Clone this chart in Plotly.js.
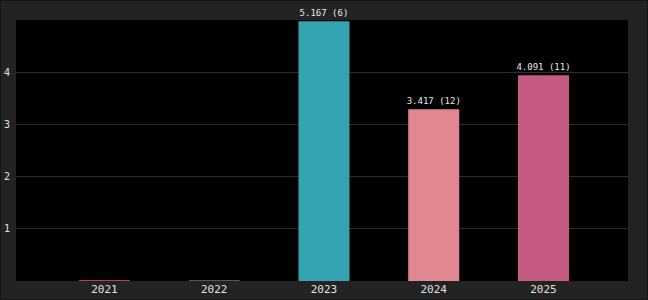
<!DOCTYPE html>
<html>
<head>
<meta charset="utf-8">
<script src="https://cdn.plot.ly/plotly-3.0.1.min.js"></script>
<style>
  html, body { margin: 0; padding: 0; background: #232323; }
  #chart { width: 646px; height: 298px; border: 1px solid #161616; }
</style>
</head>
<body>
<div id="chart"></div>
<script>
const years = ['2021', '2022', '2023', '2024', '2025'];
const values = [0.02, 0.02, 5.167, 3.417, 4.091];
const counts = [null, null, 6, 12, 11];
const colors = ['#c8385a', '#555560', '#34a3b2', '#e08791', '#c55a82'];
const gridTicks = [1, 2, 3, 4];

const labels = values.map((v, i) => counts[i] == null ? '' : v.toFixed(3) + ' (' + counts[i] + ')');

// invisible carrier trace so the gridded axis is drawn
const axisTrace = {
  type: 'scatter',
  mode: 'none',
  x: years,
  y: values,
  yaxis: 'y',
  hoverinfo: 'skip',
  showlegend: false
};

const barTrace = {
  type: 'bar',
  x: years,
  y: values,
  yaxis: 'y2',
  width: 0.465,
  marker: { color: colors, line: { width: 0 } },
  text: labels,
  textposition: 'outside',
  cliponaxis: false,
  constraintext: 'none',
  textfont: { family: 'DejaVu Sans Mono', size: 9, color: '#e8e8e8' },
  hoverinfo: 'x+y'
};

const layout = {
  width: 646,
  height: 298,
  margin: { l: 15, r: 19, t: 19, b: 18 },
  paper_bgcolor: '#232323',
  plot_bgcolor: '#000000',
  showlegend: false,
  barmode: 'overlay',
  font: { family: 'DejaVu Sans Mono', color: '#e0e0e0' },
  xaxis: {
    type: 'category',
    range: [-0.806, 4.77],
    showgrid: false,
    zeroline: false,
    showline: false,
    ticks: '',
    tickfont: { family: 'DejaVu Sans Mono', size: 11, color: '#e0e0e0' }
  },
  yaxis: {
    range: [0, 5],
    tickvals: gridTicks,
    ticktext: gridTicks.map(String),
    showgrid: true,
    gridcolor: '#2b2b2b',
    gridwidth: 1,
    zeroline: false,
    showline: false,
    ticks: '',
    ticklabelstandoff: 5,
    tickfont: { family: 'DejaVu Sans Mono', size: 10, color: '#e0e0e0' }
  },
  yaxis2: {
    overlaying: 'y',
    side: 'right',
    range: [0, 5.19],
    showticklabels: false,
    showgrid: false,
    zeroline: false,
    showline: false,
    ticks: ''
  }
};

Plotly.newPlot('chart', [axisTrace, barTrace], layout, { displayModeBar: false, staticPlot: true });
</script>
</body>
</html>
